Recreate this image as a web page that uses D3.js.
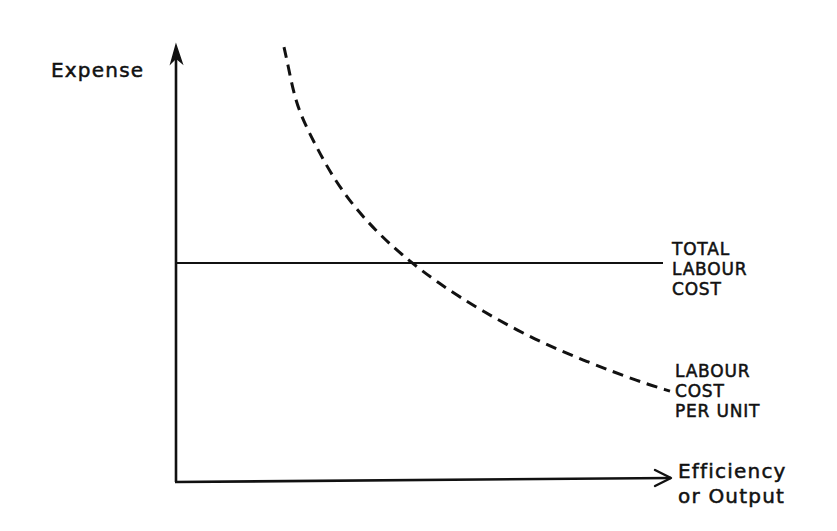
<!DOCTYPE html>
<html>
<head>
<meta charset="utf-8">
<script src="https://cdnjs.cloudflare.com/ajax/libs/d3/7.8.5/d3.min.js"></script>
<style>
  body { margin: 0; background: #fff; }
  svg text { font-family: "DejaVu Sans", sans-serif; fill: #111; stroke: #111; stroke-width: 0.5px; }
  .lbl { font-size: 17px; letter-spacing: 0.8px; }
  .axlbl { font-size: 20px; letter-spacing: 1.2px; }
</style>
</head>
<body>
<svg id="chart"></svg>
<script>
// efficiency (x) vs expense (y), both 0..100 in arbitrary units
const unitCostX = [21.6, 22.4, 23.4, 24.8, 27.8, 30.8, 34.8, 40.0, 45.4, 52.4, 61.2, 71.8, 82.2, 92.8, 98.8];
const unitCostY = [99.5, 95.4, 89.7, 84.2, 77.3, 70.9, 64.1, 57.4, 51.7, 45.5, 39.1, 32.5, 27.5, 22.9, 20.8];
const totalCost = 50.1;
const totalCostEnd = 97.4;
const totalLabel = ['TOTAL', 'LABOUR', 'COST'];
const unitLabel = ['LABOUR', 'COST', 'PER UNIT'];
const xLabel = ['Efficiency', 'or Output'];
const yLabel = 'Expense';

const width = 837, height = 531;
const svg = d3.select('#chart').attr('width', width).attr('height', height);

const x = d3.scaleLinear().domain([0, 100]).range([176, 676]);
const y = d3.scaleLinear().domain([0, 100]).range([482, 45]);

// axes
svg.append('line')
    .attr('x1', x(0)).attr('y1', y(0))
    .attr('x2', x(0)).attr('y2', y(100) + 6)
    .attr('stroke', '#111').attr('stroke-width', 2.6);
svg.append('path')
    .attr('d', `M${x(0)},${y(100)} L${x(0) - 5},${y(100) + 18} L${x(0)},${y(100) + 13} L${x(0) + 6},${y(100) + 18} Z`)
    .attr('fill', '#111').attr('stroke', '#111').attr('stroke-width', 1.5);

svg.append('line')
    .attr('x1', x(0) - 1).attr('y1', y(0))
    .attr('x2', x(99)).attr('y2', y(0) - 4)
    .attr('stroke', '#111').attr('stroke-width', 2.6);
svg.append('path')
    .attr('d', `M${x(99) - 16},${y(0) - 12} L${x(99)},${y(0) - 4} L${x(99) - 16},${y(0) + 4}`)
    .attr('fill', 'none').attr('stroke', '#111').attr('stroke-width', 2.4)
    .attr('stroke-linecap', 'round').attr('stroke-linejoin', 'round');

// total labour cost
svg.append('line')
    .attr('x1', x(0)).attr('y1', y(totalCost))
    .attr('x2', x(totalCostEnd)).attr('y2', y(totalCost))
    .attr('stroke', '#111').attr('stroke-width', 2);

// labour cost per unit
const pts = unitCostX.map((d, i) => [d, unitCostY[i]]);
svg.append('path')
    .datum(pts)
    .attr('d', d3.line().x(d => x(d[0])).y(d => y(d[1])).curve(d3.curveBasis))
    .attr('fill', 'none').attr('stroke', '#111').attr('stroke-width', 3)
    .attr('stroke-dasharray', '11 7');

// labels
svg.append('text').attr('class', 'axlbl').attr('x', 51).attr('y', 77).text(yLabel);

svg.selectAll('.tl').data(totalLabel).join('text')
    .attr('class', 'lbl tl').attr('x', 672).attr('y', (d, i) => 255 + i * 20).text(d => d);

svg.selectAll('.ul').data(unitLabel).join('text')
    .attr('class', 'lbl ul').attr('x', 675).attr('y', (d, i) => 377 + i * 20).text(d => d);

svg.selectAll('.xl').data(xLabel).join('text')
    .attr('class', 'axlbl xl').attr('x', 678).attr('y', (d, i) => 478 + i * 25).text(d => d);
</script>
</body>
</html>
